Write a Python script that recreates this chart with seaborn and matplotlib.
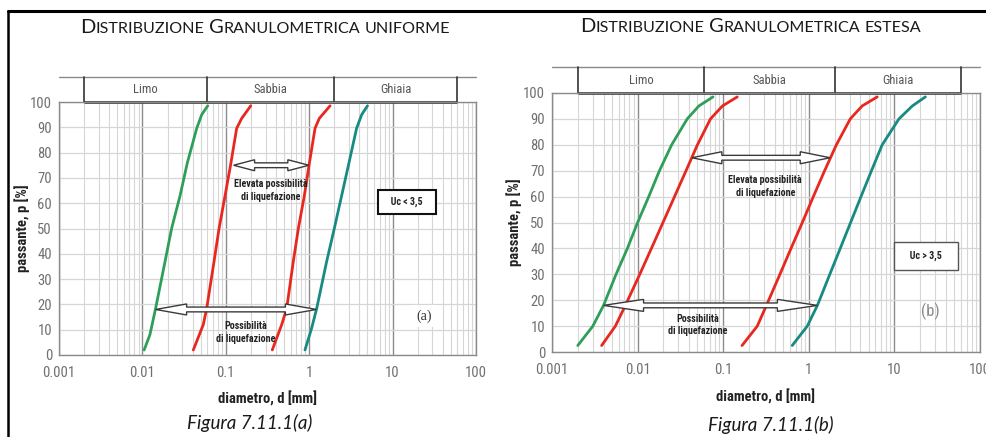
import numpy as np
import pandas as pd
import seaborn as sns
import matplotlib.pyplot as plt
from matplotlib import font_manager
from matplotlib.patches import Polygon
from matplotlib.lines import Line2D
from matplotlib.ticker import FixedLocator, LogLocator, NullFormatter

# --- data (d in mm, p in %) ---
# (a) uniform grading
p_a_green = [2, 8, 18.4, 37, 50, 63, 76, 89.6, 95, 98.5]
d_a_green = [0.0105, 0.0123, 0.0144, 0.0187, 0.0224, 0.0283, 0.0346, 0.0448, 0.0514, 0.0607]
p_a_red = [2, 12, 18.4, 37, 50, 63, 75, 89.6, 93.5, 98.5]
d_a_red1 = [0.0408, 0.0537, 0.059, 0.0723, 0.083, 0.098, 0.114, 0.135, 0.155, 0.199]
d_a_red2 = [0.361, 0.468, 0.537, 0.645, 0.741, 0.875, 0.995, 1.175, 1.32, 1.78]
p_a_teal = [2, 10.6, 18.4, 37, 50, 63, 76, 89.6, 95, 98.5]
d_a_teal = [0.89, 1.07, 1.23, 1.62, 2.0, 2.45, 3.0, 3.7, 4.26, 5.0]

# (b) extended grading
p_b = [2.5, 10, 18, 30, 40, 50, 60, 70, 80, 90, 95, 98.5]
d_b_green = [0.0020, 0.0030, 0.0040, 0.0056, 0.0076, 0.0100, 0.0135, 0.018, 0.025, 0.038, 0.052, 0.076]
d_b_red1 = [0.0038, 0.0055, 0.0072, 0.0106, 0.0145, 0.0198, 0.027, 0.0368, 0.050, 0.071, 0.098, 0.146]
d_b_red2 = [0.166, 0.25, 0.32, 0.46, 0.62, 0.84, 1.13, 1.53, 2.10, 3.05, 4.20, 6.30]
d_b_teal = [0.64, 0.96, 1.26, 1.76, 2.33, 3.08, 4.07, 5.40, 7.20, 11.3, 16.2, 23.0]

# soil classes (top band)
class_names = ["Limo", "Sabbia", "Ghiaia"]
class_bounds = [0.002, 0.06, 2, 60]

x_ticks = [0.001, 0.01, 0.1, 1, 10, 100]
x_tick_labels = ["0.001", "0.01", "0.1", "1", "10", "100"]
y_ticks = list(range(0, 101, 10))

# arrows: (d left, d right, p, head length px)
arrows_a = [(0.124, 0.99, 75, 21), (0.0144, 1.22, 18, 31)]
arrows_b = [(0.043, 1.78, 75, 30), (0.004, 1.26, 18, 40)]

colors = {"green": "#2e9f58", "red1": "#e8281f", "red2": "#e8281f", "teal": "#178a82"}
TITLE = ["Lato", "DejaVu Sans"]

# pick a narrow sans for the chart lettering if one is installed
fonts = font_manager.fontManager.ttflist
names = {f.name for f in fonts}
narrow = None
for n in ["Liberation Sans Narrow", "DejaVu Sans Condensed", "Roboto Condensed",
          "Open Sans Condensed", "Noto Sans Condensed", "Arial Narrow"]:
    if n in names:
        narrow = n
        break
stretch = "normal"
if narrow is None:
    for f in fonts:
        if f.stretch in ("condensed", "semi-condensed", "extra-condensed") and \
                "Serif" not in f.name and "Mono" not in f.name:
            narrow = f.name
            stretch = f.stretch
            break
if narrow is None:
    narrow = "Roboto"
NARROW = [narrow, "DejaVu Sans"]

sns.set_style("white")
plt.rcParams["font.family"] = NARROW
plt.rcParams["font.stretch"] = stretch

fig = plt.figure(figsize=(9.87, 4.37), dpi=100)
W, H = 987, 437
ax_a = fig.add_axes([59 / W, 1 - 355 / H, 417 / W, 253 / H])
ax_b = fig.add_axes([552 / W, 1 - 352 / H, 428 / W, 259 / H])


def make_frame(curves):
    rows = []
    for name, (d, p) in curves.items():
        rows.append(pd.DataFrame({"d": d, "p": p, "curve": name}))
    return pd.concat(rows, ignore_index=True)


def double_arrow(ax, x0, x1, y, head_len, head_h=5.5, shaft_h=2.4):
    to_ax = ax.transAxes.inverted()
    (a0, b0) = to_ax.transform(ax.transData.transform((x0, y)))
    (a1, _) = to_ax.transform(ax.transData.transform((x1, y)))
    L = head_len / ax.bbox.width
    hh = head_h / ax.bbox.height
    sh = shaft_h / ax.bbox.height
    pts = [(a0, b0), (a0 + L, b0 + hh), (a0 + L, b0 + sh), (a1 - L, b0 + sh),
           (a1 - L, b0 + hh), (a1, b0), (a1 - L, b0 - hh), (a1 - L, b0 - sh),
           (a0 + L, b0 - sh), (a0 + L, b0 - hh)]
    ax.add_patch(Polygon(pts, closed=True, transform=ax.transAxes, facecolor="white",
                         edgecolor="#3a3a3a", lw=1.0, zorder=5))


def setup_axes(ax):
    ax.set_xscale("log")
    ax.set_xlim(0.001, 100)
    ax.set_ylim(0, 100)
    ax.xaxis.set_major_locator(FixedLocator(x_ticks))
    ax.xaxis.set_minor_locator(LogLocator(base=10, subs=range(2, 10)))
    ax.xaxis.set_minor_formatter(NullFormatter())
    ax.set_xticklabels(x_tick_labels)
    ax.set_yticks(y_ticks)
    ax.tick_params(axis="both", which="both", length=0, labelcolor="#707070", labelsize=10.5)
    ax.tick_params(axis="x", pad=8)
    ax.tick_params(axis="y", pad=5)
    ax.grid(which="minor", axis="x", color="#d6d6d6", lw=0.8)
    ax.grid(which="major", axis="x", color="#8c8c8c", lw=1.0)
    ax.grid(which="major", axis="y", color="#d6d6d6", lw=0.9)
    ax.set_axisbelow(True)
    for sp in ax.spines.values():
        sp.set_color("#8a8a8a")
        sp.set_linewidth(1.0)

    # soil class band above the plot
    xt = ax.get_xaxis_transform()
    ax.plot([0, 1], [1.1, 1.1], transform=ax.transAxes, color="#8a8a8a", lw=1.0, clip_on=False)
    ax.plot([class_bounds[0], class_bounds[-1]], [1.0, 1.0], transform=xt, color="#222222",
            lw=1.8, clip_on=False, solid_capstyle="butt")
    for b in class_bounds:
        ax.plot([b, b], [1.0, 1.1], transform=xt, color="#333333", lw=1.2, clip_on=False)
    for name, lo, hi in zip(class_names, class_bounds[:-1], class_bounds[1:]):
        ax.text(np.sqrt(lo * hi), 1.05, name, transform=xt, ha="center", va="center",
                fontsize=9, color="#555555")


def small_caps(x_px, y_px, text, big, small):
    # capitals stay large, lowercase letters become small capitals
    renderer = fig.canvas.get_renderer()
    x = x_px
    for word in text.split():
        if word[0].isupper():
            pieces = ((word[0], big), (word[1:].upper(), small))
        else:
            pieces = ((word.upper(), small),)
        for piece, size in pieces:
            if not piece:
                continue
            t = fig.text(x / W, 1 - y_px / H, piece, fontsize=size, family=TITLE,
                         fontstretch="normal", va="baseline", ha="left", color="#1a1a1a")
            x += t.get_window_extent(renderer).width
        x += small * 0.28 * 100 / 72


def panel_notes(ax, upper_xy, lower_xy, uc_xy, uc_text, box_kw):
    ax.text(*upper_xy, "Elevata possibilità\ndi liquefazione", ha="center", va="center",
            fontsize=7.2, fontweight="bold", color="#222222", linespacing=1.35, zorder=6)
    ax.text(*lower_xy, "Possibilità\ndi liquefazione", ha="center", va="center",
            fontsize=7.2, fontweight="bold", color="#222222", linespacing=1.35, zorder=6)
    ax.text(*uc_xy, uc_text, ha="center", va="center", fontsize=7.2,
            fontweight="bold", color="#222222", zorder=6, bbox=box_kw)


# ---------- panel (a) ----------
setup_axes(ax_a)
df_a = make_frame({"green": (d_a_green, p_a_green), "red1": (d_a_red1, p_a_red),
                   "red2": (d_a_red2, p_a_red), "teal": (d_a_teal, p_a_teal)})
sns.lineplot(data=df_a, x="d", y="p", hue="curve", palette=colors, sort=False,
             estimator=None, legend=False, lw=2.0, ax=ax_a)
ax_a.set_xlabel("")
ax_a.set_ylabel("")
for x0, x1, y, hl in arrows_a:
    double_arrow(ax_a, x0, x1, y, hl)
panel_notes(ax_a, (0.35, 65), (0.175, 9), (14.8, 60.5), "   Uc < 3,5   ",
            dict(boxstyle="square,pad=0.65", fc="white", ec="#111111", lw=1.5))
ax_a.text(23.8, 15.4, "(a)", ha="center", va="center", fontsize=10,
          family=["Liberation Serif", "DejaVu Serif"], fontstretch="normal",
          color="#333333", zorder=6,
          bbox=dict(boxstyle="square,pad=0.3", fc="white", ec="none"))

# ---------- panel (b) ----------
setup_axes(ax_b)
df_b = make_frame({"green": (d_b_green, p_b), "red1": (d_b_red1, p_b),
                   "red2": (d_b_red2, p_b), "teal": (d_b_teal, p_b)})
sns.lineplot(data=df_b, x="d", y="p", hue="curve", palette=colors, sort=False,
             estimator=None, legend=False, lw=2.0, ax=ax_b)
ax_b.set_xlabel("")
ax_b.set_ylabel("")
for x0, x1, y, hl in arrows_b:
    double_arrow(ax_b, x0, x1, y, hl, head_h=6)
panel_notes(ax_b, (0.31, 64), (0.05, 10.4), (23.5, 37), "   Uc > 3,5   ",
            dict(boxstyle="square,pad=0.9", fc="white", ec="#555555", lw=1.0))
ax_b.text(26, 15.5, "(b)", ha="center", va="center", fontsize=12,
          color="#8a8a8a", zorder=6)

# axis labels
for x, y, rot, s in [(22, 228, 90, "passante, p [%]"), (268, 399, 0, "diametro, d [mm]"),
                     (514, 222, 90, "passante, p [%]"), (766, 397, 0, "diametro, d [mm]")]:
    fig.text(x / W, 1 - y / H, s, rotation=rot, ha="center", va="center",
             fontsize=10.5, fontweight="bold", color="#222222")

# titles in small caps and captions
small_caps(80, 33, "Distribuzione Granulometrica uniforme", 14.5, 11.6)
small_caps(580, 32, "Distribuzione Granulometrica estesa", 14.5, 11.6)
fig.text(250 / W, 1 - 423 / H, "Figura 7.11.1(a)", ha="center", va="center",
         fontsize=13.5, style="italic", family=TITLE, fontstretch="normal", color="#1a1a1a")
fig.text(771 / W, 1 - 425 / H, "Figura 7.11.1(b)", ha="center", va="center",
         fontsize=13.5, style="italic", family=TITLE, fontstretch="normal", color="#1a1a1a")

# outer frame (left and top border)
fig.add_artist(Line2D([8 / W, 8 / W], [0, 1 - 11 / H], color="black", lw=1.8))
fig.add_artist(Line2D([8 / W, 1], [1 - 11 / H, 1 - 11 / H], color="black", lw=2.2))

fig.savefig("out.png", dpi=100)
